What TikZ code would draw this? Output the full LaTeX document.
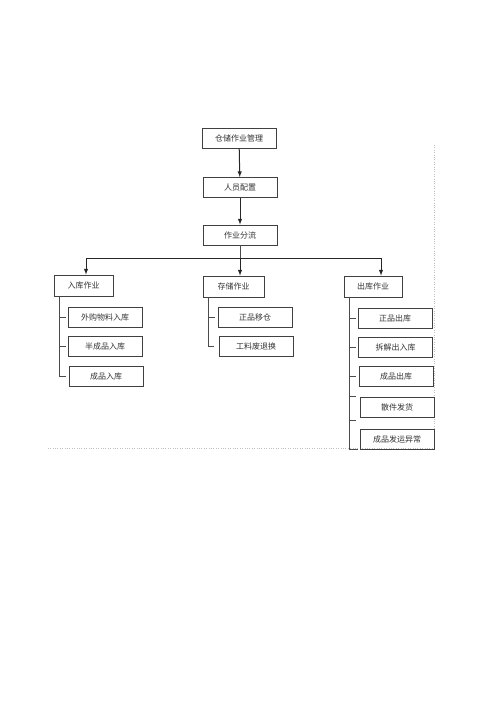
\documentclass[tikz,border=0pt]{standalone}
\usepackage{fontspec}
\newfontfamily\cjk{Noto Sans CJK SC}
\tikzset{
  box/.style={draw=black!75,line width=0.8pt,minimum width=74pt,minimum height=20pt,
    inner sep=0pt,text=black!80,font=\cjk\fontsize{8}{9}\selectfont},
  head/.style={box,minimum height=21pt},
  arr/.style={->,>=latex,line width=1pt,black!85},
  link/.style={line width=0.8pt,black!70}
}
\begin{document}
\begin{tikzpicture}[x=1pt,y=-1pt]
  \useasboundingbox (0,0) rectangle (500,708);
  % faint frame
  \draw[black!25,dotted] (434,145) -- (434,448) -- (48,448);
  % top
  \node[box] (top) at (239,138) {仓储作业管理};
  \node[box] (staff) at (240,187.5) {人员配置};
  \node[box] (split) at (240,235) {作业分流};
  \draw[arr] (top) -- (staff);
  \draw[arr] (staff) -- (split);
  % three branches
  \node[head,minimum width=59pt] (inbound) at (83.5,285.5) {入库作业};
  \node[head,minimum width=61pt] (storage) at (233.5,286.5) {存储作业};
  \node[head,minimum width=58pt] (outbound) at (373,286.5) {出库作业};
  \coordinate (fork) at (240,258);
  \draw[link] (split) -- (fork);
  \draw[arr] (fork) -| ([xshift=2.5pt]inbound.north);
  \draw[arr] (fork) -- (fork |- storage.north);
  \draw[arr] (fork) -| ([xshift=8pt]outbound.north);
  % inbound
  \node[box] (buy) at (105,317) {外购物料入库};
  \node[box] (semi) at (105,346) {半成品入库};
  \node[box] (prodin) at (106,376) {成品入库};
  \coordinate (ta) at ([xshift=6pt]inbound.south west);
  \draw[link] (ta) |- ([xshift=-3pt]prodin.west);
  \draw[link] (buy.west -| ta) -- ++(6,0);
  \draw[link] (semi.west -| ta) -- ++(6,0);
  % storage
  \node[box] (move) at (255,317) {正品移仓};
  \node[box] (scrap) at (256,346) {工料废退换};
  \coordinate (tb) at ([xshift=6pt]storage.south west);
  \draw[link] (tb) |- ([xshift=-5pt]scrap.west);
  \draw[link] (move.west -| tb) -- ++(6,0);
  % outbound
  \node[box] (good) at (395,318) {正品出库};
  \node[box] (split2) at (395.5,347) {拆解出入库};
  \node[box] (prodout) at (396,376.5) {成品出库};
  \node[box] (parts) at (397,407) {散件发货};
  \node[box] (abn) at (397,439) {成品发运异常};
  \coordinate (tc) at ([xshift=6pt]outbound.south west);
  \draw[link] (tc) |- ([xshift=-2pt]abn.south west);
  \draw[link] (good.west -| tc) -- ++(6,0);
  \draw[link] (split2.west -| tc) -- ++(6,0);
  \draw[link] (prodout.west -| tc) -- ++(6,0);
  \draw[link] (parts.north west -| tc) -- ++(6,0);
  \draw[link] ([yshift=19pt]abn.west -| tc) -- ++(6,0);
\end{tikzpicture}
\end{document}
